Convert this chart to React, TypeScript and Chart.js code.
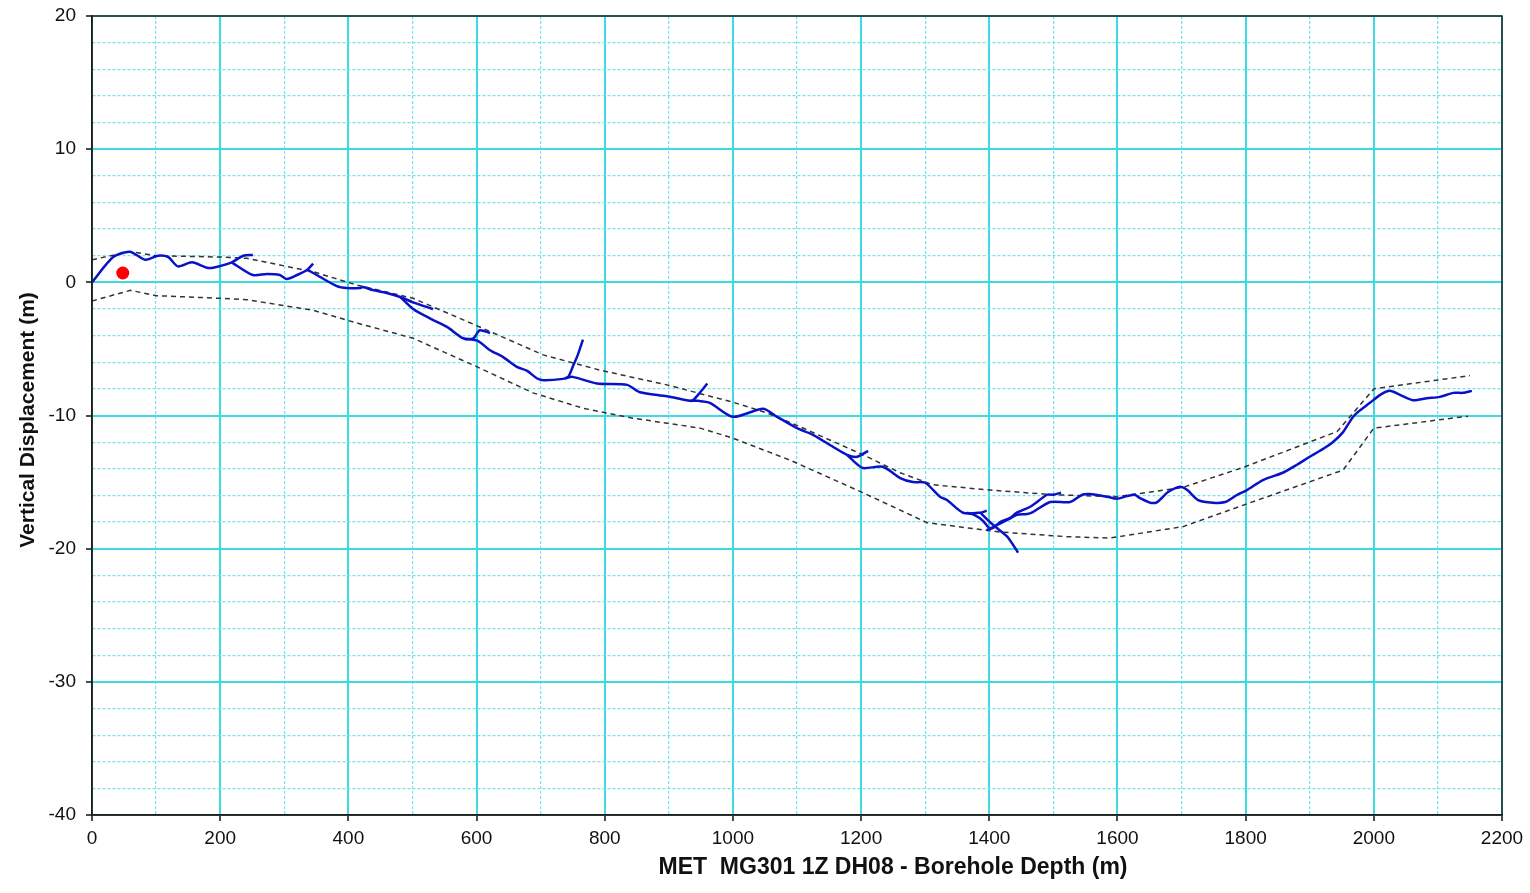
import { useEffect, useRef } from "react"
import { Chart, registerables } from "chart.js"

Chart.register(...registerables)

// depth (m), vertical displacement (m) for each survey run
const RUN_1 = [[0, 0], [33, 1.9], [59, 2.3], [83, 1.7], [103, 2.0], [119, 1.9], [134, 1.2], [156, 1.5], [179, 1.1], [189, 1.1], [218, 1.5], [236, 2.0], [251, 2.05]]
const RUN_2 = [[218, 1.5], [251, 0.55], [273, 0.63], [293, 0.55], [304, 0.25], [320, 0.55], [336, 0.95], [345, 1.4]]
const RUN_3 = [[336, 0.95], [356, 0.4], [382, -0.28], [398, -0.43], [418, -0.43], [423, -0.35], [438, -0.58], [460, -0.8], [481, -1.1], [501, -1.5], [532, -2.0]]
const RUN_4 = [[481, -1.1], [501, -2.0], [527, -2.7], [554, -3.35], [579, -4.2], [595, -4.2], [605, -3.6], [621, -3.8]]
const RUN_5 = [[582, -4.25], [602, -4.4], [621, -5.1], [641, -5.6], [663, -6.35], [679, -6.65], [694, -7.2], [704, -7.35], [735, -7.25], [743, -7.1], [750, -6.35], [758, -5.45], [766, -4.3]]
const RUN_6 = [[738, -7.2], [750, -7.1], [788, -7.6], [835, -7.7], [855, -8.25], [897, -8.55], [933, -8.9], [938, -8.85], [949, -8.25], [960, -7.6]]
const RUN_7 = [[933, -8.9], [946, -8.9], [964, -9.05], [1000, -10.1], [1047, -9.5], [1069, -10.1], [1100, -10.95], [1125, -11.45], [1156, -12.35], [1178, -12.95], [1194, -13.1], [1211, -12.65]]
const RUN_8 = [[1178, -12.95], [1190, -13.5], [1203, -13.95], [1234, -13.85], [1261, -14.7], [1281, -15.0], [1300, -15.05], [1323, -16.1], [1334, -16.35], [1359, -17.3], [1386, -17.3], [1396, -17.15]]
const RUN_9 = [[1365, -17.3], [1378, -17.5], [1390, -17.9], [1401, -18.5], [1409, -18.35], [1417, -18.0], [1432, -17.7], [1443, -17.3], [1464, -16.85], [1490, -15.95], [1499, -15.95], [1512, -15.8]]
const RUN_10 = [[1386, -17.3], [1401, -18.0], [1412, -18.45], [1428, -19.1], [1437, -19.7], [1445, -20.3]]
const RUN_11 = [
  [1396, -18.6], [1409, -18.3], [1432, -17.75], [1443, -17.45], [1459, -17.4], [1468, -17.25], [1495, -16.5], [1526, -16.5],
  [1545, -15.95], [1557, -15.9], [1584, -16.1], [1599, -16.25], [1615, -16.05], [1627, -15.95], [1635, -16.2], [1651, -16.55],
  [1662, -16.5], [1679, -15.75], [1698, -15.35], [1709, -15.6], [1726, -16.35], [1749, -16.55], [1768, -16.5], [1787, -15.95],
  [1802, -15.6], [1827, -14.85], [1858, -14.3], [1880, -13.7], [1900, -13.1], [1916, -12.65], [1935, -12.05], [1952, -11.25],
  [1966, -10.2], [1975, -9.75], [1994, -9.05], [2010, -8.45], [2025, -8.15], [2041, -8.45], [2061, -8.85], [2083, -8.7],
  [2103, -8.6], [2124, -8.3], [2139, -8.3], [2153, -8.15],
]

const UPPER_LIMIT = [
  [0, 1.7], [60, 2.3], [100, 2.0], [200, 1.9], [242, 1.8], [293, 1.3], [345, 0.8], [413, -0.2], [501, -1.2], [605, -3.35],
  [704, -5.45], [793, -6.6], [897, -7.7], [1000, -9.0], [1053, -9.8], [1105, -10.85], [1203, -12.95], [1261, -14.3],
  [1312, -15.2], [1401, -15.6], [1500, -15.95], [1599, -16.1], [1702, -15.4], [1796, -13.9], [1943, -11.2], [2000, -8.0], [2150, -7.0],
]
const LOWER_LIMIT = [
  [0, -1.4], [60, -0.6], [100, -1.0], [200, -1.2], [242, -1.3], [293, -1.7], [345, -2.1], [413, -3.05], [501, -4.2], [601, -6.35],
  [688, -8.3], [766, -9.45], [844, -10.2], [949, -10.95], [1000, -11.7], [1089, -13.35], [1203, -15.8], [1303, -18.05],
  [1417, -18.75], [1521, -19.1], [1588, -19.2], [1702, -18.35], [1807, -16.55], [1952, -14.1], [2000, -10.95], [2147, -10.05],
]

const START_POINT = [[48, 0.7]]

const RUNS = [RUN_1, RUN_2, RUN_3, RUN_4, RUN_5, RUN_6, RUN_7, RUN_8, RUN_9, RUN_10, RUN_11]

const X_TITLE = "MET  MG301 1Z DH08 - Borehole Depth (m)"
const Y_TITLE = "Vertical Displacement (m)"

const MAJOR = "#3cdae2"
const MINOR = "#78e2ec"
const BLUE = "#0a12c8"
const FONT = "'Liberation Sans', Arial, sans-serif"

const toXY = (pts: number[][]) => pts.map(([x, y]) => ({ x, y }))

const frame = {
  id: "frame",
  afterDraw(chart: Chart) {
    const { ctx, chartArea: a } = chart
    ctx.save()
    ctx.strokeStyle = "#222"
    ctx.lineWidth = 1.5
    ctx.strokeRect(a.left, a.top, a.right - a.left, a.bottom - a.top)
    ctx.fillStyle = "#111"
    ctx.font = `bold 23px ${FONT}`
    ctx.textAlign = "center"
    ctx.textBaseline = "middle"
    ctx.fillText(X_TITLE, 893, 868)
    ctx.font = `bold 21px ${FONT}`
    ctx.translate(28, 420)
    ctx.rotate(-Math.PI / 2)
    ctx.fillText(Y_TITLE, 0, 0)
    ctx.restore()
  },
}

export default function App() {
  const canvasRef = useRef<HTMLCanvasElement>(null)

  useEffect(() => {
    if (!canvasRef.current) return
    Chart.defaults.font.family = FONT

    const isMajor = (v: number, step: number) => Math.abs(v % step) < 1e-9

    const chart = new Chart(canvasRef.current, {
      type: "line",
      data: {
        datasets: [
          {
            data: toXY(START_POINT),
            showLine: false,
            pointRadius: 6.5,
            pointBackgroundColor: "#ff0000",
            pointBorderWidth: 0,
          },
          ...RUNS.map(run => ({
            data: toXY(run),
            borderColor: BLUE,
            borderWidth: 2.5,
            pointRadius: 0,
            tension: 0.25,
          })),
          ...[UPPER_LIMIT, LOWER_LIMIT].map(lim => ({
            data: toXY(lim),
            borderColor: "#333",
            borderWidth: 1.5,
            borderDash: [5, 4],
            pointRadius: 0,
            tension: 0,
          })),
        ],
      },
      options: {
        animation: false,
        responsive: true,
        maintainAspectRatio: false,
        layout: { padding: { top: 16, right: 28, left: 0, bottom: 0 } },
        plugins: { legend: { display: false }, tooltip: { enabled: false } },
        scales: {
          x: {
            type: "linear",
            min: 0,
            max: 2200,
            afterFit: (s: any) => { s.height = 78 },
            ticks: {
              stepSize: 100,
              autoSkip: false,
              maxRotation: 0,
              padding: 6,
              color: "#111",
              font: { size: 19 },
              callback: (v: any) => (isMajor(v, 200) ? String(v) : ""),
            },
            grid: {
              color: (c: any) => (c.tick && !isMajor(c.tick.value, 200) ? MINOR : MAJOR),
              lineWidth: (c: any) => (c.tick && !isMajor(c.tick.value, 200) ? 1.2 : 2),
              tickColor: (c: any) => (c.tick && !isMajor(c.tick.value, 200) ? "rgba(0,0,0,0)" : "#111"),
              tickLength: 6,
              tickWidth: 1.5,
            },
            border: {
              display: true,
              color: "#111",
              width: 1.5,
              dash: (c: any) => (c.tick && !isMajor(c.tick.value, 200) ? [3, 2] : []),
            },
          },
          y: {
            type: "linear",
            min: -40,
            max: 20,
            afterFit: (s: any) => {
              s.width = 92
              s.paddingTop = 0
              s.paddingBottom = 0
            },
            ticks: {
              stepSize: 2,
              autoSkip: false,
              padding: 10,
              color: "#111",
              font: { size: 19 },
              callback: (v: any) => (isMajor(v, 10) ? String(v) : ""),
            },
            grid: {
              color: (c: any) => (c.tick && !isMajor(c.tick.value, 10) ? MINOR : MAJOR),
              lineWidth: (c: any) => (c.tick && !isMajor(c.tick.value, 10) ? 1.2 : 2),
              tickColor: (c: any) => (c.tick && !isMajor(c.tick.value, 10) ? "rgba(0,0,0,0)" : "#111"),
              tickLength: 6,
              tickWidth: 1.5,
            },
            border: {
              display: true,
              color: "#111",
              width: 1.5,
              dash: (c: any) => (c.tick && !isMajor(c.tick.value, 10) ? [3, 2] : []),
            },
          },
        },
      },
      plugins: [frame],
    })

    return () => { chart.destroy() }
  }, [])

  return (
    <div style={{ position: "absolute", left: 0, top: 0, width: 1530, height: 893, background: "#fff" }}>
      <canvas ref={canvasRef} />
    </div>
  )
}
